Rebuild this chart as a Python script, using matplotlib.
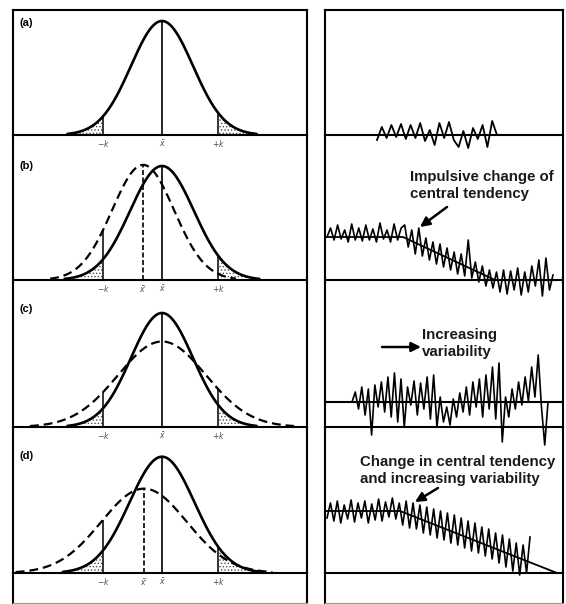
import numpy as np
import matplotlib.pyplot as plt

plt.rcParams['font.family'] = ['Liberation Sans', 'DejaVu Sans']
plt.rcParams['hatch.linewidth'] = 0.6

W, H = 566, 604

# row layout in pixels (top edge, baseline)
row_names = ['(a)', '(b)', '(c)', '(d)']
row_top = [10, 135, 280, 427]
row_base = [135, 280, 427, 573]
foot_base = 603
label_off = [9, 22, 21, 21]

# left column: normal curves, x in units of the reference sigma
solid_mu = [0.0, 0.0, 0.0, 0.0]
solid_sd = [1.0, 1.03, 1.0, 1.05]
solid_peak = [1.0, 1.0, 1.0, 1.02]
dash_mu = [None, -0.61, 0.0, -0.58]
dash_sd = [None, 1.0, 1.42, 1.38]
dash_peak = [None, 1.01, 0.75, 0.74]
k_lo = -1.9
k_hi = 1.82
tick_labels = [[r'$-k$', r'$\bar{x}$', r'$+k$'],
               [r'$-k$', r"$\bar{x}'$", r'$\bar{x}$', r'$+k$'],
               [r'$-k$', r'$\bar{x}$', r'$+k$'],
               [r'$-k$', r"$\bar{x}'$", r'$\bar{x}$', r'$+k$']]

# right column: time series, heights in px above the baseline
a_span = (52, 172)
a_vals = [-5, 8, -3, 10, -2, 11, -4, 10, -3, 12, -6, 5, -10, 12, -3, 13,
          -5, -12, 4, -13, 7, -4, 10, -12, 14, 0]

b_span = (2, 228)
b_vals = [43, 52, 40, 55, 41, 50, 38, 56, 40, 52, 39, 55, 40, 51, 38, 57,
          41, 50, 38, 56, 40, 52,
          55, 33, 50, 26, 52, 24, 42, 20, 38, 16, 36, 13, 32, 10, 28, 6,
          26, 4, 40, 2, 18, -2, 14, -6, 10, -8,
          8, -12, 10, -14, 9, -10, 12, -15, 8, -12, 14, -6, 20, -16, 22, -10, 5]
b_trend_x = [0, 78, 170, 238]
b_trend_y = [43, 43, 0, 0]

c_span = (27, 223)
c_mean = 25
c_vals = [25, 35, 18, 40, 12, 38, -8, 42, 20, 45, 15, 50, 10, 54, 5, 48,
          0, 40, 22, 46, 12, 44, 18, 50, 8, 52, 0, 30, 5, 20, 2, 28, 10,
          34, 15, 40, 12, 45, 20, 48, 10, 52, 18, 60, 8, 64, -15, 30, 10,
          38, 18, 45, 22, 50, 26, 60, 30, 72, 20, -18, 25]

d_span = (2, 205)
d_vals = [55, 70, 52, 72, 50, 68, 54, 73, 51, 70, 55, 72, 50, 69, 53, 74,
          52, 71, 56, 75, 54, 70,
          48, 72, 45, 70, 44, 68, 40, 66, 38, 64, 35, 62, 33, 60, 30, 58,
          28, 55, 25, 52, 22, 50, 20, 46, 17, 44, 14, 40, 10, 38, 6, 34,
          2, 30, -2, 28, 0, 36]
d_trend_x = [0, 75, 232]
d_trend_y = [62, 62, 0]

notes = ['Impulsive change of\ncentral tendency', 'Increasing\nvariability',
         'Change in central tendency\nand increasing variability']
note_xy = [(1, 85, 110), (2, 97, 99), (3, 35, 118)]
arrow_tail = [(1, 122, 73), (2, 57, 80), (3, 113, 85)]
arrow_head = [(1, 95, 53), (2, 96, 80), (3, 90, 71)]


def gauss(x, mu, sd, peak):
    return peak * np.exp(-0.5 * ((x - mu) / sd) ** 2)


def frame(ax, top=False, bottom=True, lw=1.5):
    for s in ax.spines.values():
        s.set_linewidth(lw)
    ax.spines['top'].set_visible(top)
    ax.spines['bottom'].set_visible(bottom)
    ax.set_facecolor('none')


fig = plt.figure(figsize=(W / 100, H / 100), dpi=100)

xl = ((13 - 162) / 31, (307 - 162) / 31)
for i in range(4):
    h = row_base[i] - row_top[i]
    rect = [13 / W, 1 - row_base[i] / H, 294 / W, h / H]
    ax = fig.add_axes(rect)
    frame(ax, top=(i == 0))
    ax.set_xlim(*xl)
    ax.set_ylim(0, h / 114)
    ax.set_yticks([])

    x = np.linspace(solid_mu[i] - 3.05 * solid_sd[i], solid_mu[i] + 3.05 * solid_sd[i], 400)
    ys = gauss(x, solid_mu[i], solid_sd[i], solid_peak[i])
    ax.plot(x, ys, color='k', lw=1.9, solid_capstyle='round')
    ax.fill_between(x, 0, ys, where=(x <= k_lo), facecolor='none',
                    edgecolor='0.3', hatch='.....', lw=0)
    ax.fill_between(x, 0, ys, where=(x >= k_hi), facecolor='none',
                    edgecolor='0.3', hatch='.....', lw=0)
    ax.vlines(solid_mu[i], 0, solid_peak[i], color='k', lw=1.2)

    def top_at(xx):
        v = gauss(xx, solid_mu[i], solid_sd[i], solid_peak[i])
        if dash_mu[i] is not None:
            v = max(v, gauss(xx, dash_mu[i], dash_sd[i], dash_peak[i]))
        return v

    ax.vlines([k_lo, k_hi], 0, [top_at(k_lo), top_at(k_hi)], color='k', lw=1.1)

    ticks = [k_lo, solid_mu[i], k_hi]
    if dash_mu[i] is not None:
        xd = np.linspace(dash_mu[i] - 3.0 * dash_sd[i], dash_mu[i] + 3.0 * dash_sd[i], 400)
        ax.plot(xd, gauss(xd, dash_mu[i], dash_sd[i], dash_peak[i]), color='k',
                lw=1.6, linestyle=(0, (4, 2.2)))
        if dash_mu[i] != solid_mu[i]:
            ax.vlines(dash_mu[i], 0, dash_peak[i], color='k', lw=1.2,
                      linestyles=(0, (3, 1.5)))
            ticks = [k_lo, dash_mu[i], solid_mu[i], k_hi]
    ax.set_xticks(ticks, tick_labels[i], fontsize=5.5, color='0.3')
    ax.tick_params(axis='x', length=0, pad=2.5)

    ax.annotate(row_names[i], xy=(0, 1), xycoords='axes fraction',
                xytext=(5, -label_off[i]), textcoords='offset points',
                fontsize=8, fontweight='bold', va='center', ha='left')

for i in range(4):
    h = row_base[i] - row_top[i]
    rect = [325 / W, 1 - row_base[i] / H, 238 / W, h / H]
    ax = fig.add_axes(rect)
    frame(ax, top=(i == 0))
    ax.set_xlim(0, 238)
    ax.set_ylim(0, h)
    ax.set_xticks([])
    ax.set_yticks([])
    if i == 0:
        ax.plot(np.linspace(*a_span, len(a_vals)), a_vals, color='k', lw=1.3, clip_on=False)
    elif i == 1:
        ax.plot(b_trend_x, b_trend_y, color='k', lw=1.3)
        ax.plot(np.linspace(*b_span, len(b_vals)), b_vals, color='k', lw=1.2, clip_on=False)
    elif i == 2:
        ax.axhline(c_mean, color='k', lw=1.5)
        ax.plot(np.linspace(*c_span, len(c_vals)), c_vals, color='k', lw=1.2, clip_on=False)
    else:
        ax.plot(d_trend_x, d_trend_y, color='k', lw=1.3)
        ax.plot(np.linspace(*d_span, len(d_vals)), d_vals, color='k', lw=1.2, clip_on=False)

    for (r, tx, ty), txt in zip(note_xy, notes):
        if r == i:
            ax.text(tx, ty, txt, fontsize=10.8, fontweight='bold', va='top',
                    ha='left', linespacing=1.3, color='#1a1a1a')
    for (r, x0, y0), (_, x1, y1) in zip(arrow_tail, arrow_head):
        if r == i:
            ax.annotate('', xy=(x1, y1), xytext=(x0, y0),
                        arrowprops=dict(arrowstyle='-|>', lw=1.8, color='k',
                                        mutation_scale=14, shrinkA=0, shrinkB=0))

# footer strip below the last baselines
for left, width in [(13, 294), (325, 238)]:
    ax = fig.add_axes([left / W, 1 - foot_base / H, width / W, (foot_base - row_base[3]) / H])
    frame(ax, top=False, bottom=True, lw=1.5)
    ax.spines['bottom'].set_color('0.6')
    ax.spines['bottom'].set_linewidth(0.8)
    ax.set_xticks([])
    ax.set_yticks([])

fig.savefig('out.png', dpi=100)
